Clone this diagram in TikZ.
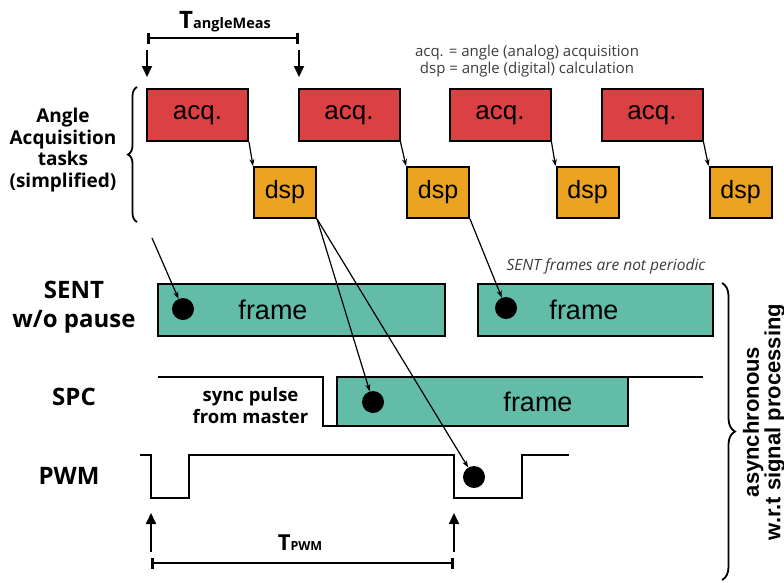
\documentclass[tikz,border=0pt]{standalone}
\usepackage{fontspec}
\setmainfont{Liberation Sans}
\newfontfamily\opensans{Open Sans}
\usetikzlibrary{arrows.meta, decorations.pathreplacing}

\definecolor{acqred}{RGB}{219,64,67}
\definecolor{dsporange}{RGB}{236,163,33}
\definecolor{frameteal}{RGB}{98,188,168}
\definecolor{notegray}{RGB}{60,60,60}

\begin{document}
\begin{tikzpicture}[
  x = 1pt, y = -1pt,
  acqbox/.style = {draw, line width = 2pt, fill = acqred, inner sep = 0pt,
    minimum width = 101pt, minimum height = 52pt, font = \fontsize{26}{26}\selectfont},
  dspbox/.style = {draw, line width = 2pt, fill = dsporange, inner sep = 0pt,
    minimum width = 62pt, minimum height = 51pt, font = \fontsize{25}{25}\selectfont},
  framebox/.style = {draw, line width = 2pt, fill = frameteal, inner sep = 0pt},
  frametext/.style = {font = \fontsize{27}{27}\selectfont},
  sample/.style = {circle, fill, minimum size = 22pt, inner sep = 0pt},
  signal/.style = {line width = 2.2pt},
  link/.style = {line width = 1.2pt, -{Stealth[length = 7pt, width = 5pt]}},
  marker/.style = {line width = 2pt, -{Triangle[length = 11pt, width = 10pt]}},
  span/.style = {line width = 1.6pt,
    {Bar[width = 11pt, line width = 3pt]}-{Bar[width = 11pt, line width = 3pt]}},
  heading/.style = {font = \opensans\bfseries\fontsize{24}{29}\selectfont, align = center},
  note/.style = {font = \opensans\fontsize{15}{17}\selectfont, text = notegray, align = center},
  ]

  \useasboundingbox (0, 0) rectangle (784, 582);

  % sampling period
  \node at (225, 22)
  [font = \opensans\bfseries, name = TangleMeas]
  {{\fontsize{24}{24}\selectfont T}{\fontsize{14.5}{15}\selectfont angleMeas}};

  \coordinate (measL) at (147, 38);
  \coordinate (measR) at (299, 38);
  \draw [span] (measL) to (measR);

  \coordinate (trigA) at (147, 50);
  \coordinate (trigB) at (299, 50);
  \draw [marker] (trigA) to +(0, 27);
  \draw [marker] (trigB) to +(0, 27);

  \node at (527, 61)
  [note, name = Legend]
  {acq. = angle (analog) acquisition\\dsp = angle (digital) calculation};

  % angle tasks
  \node at (63, 150)
  [heading, font = \opensans\bfseries\fontsize{19}{21.7}\selectfont, name = Tasks]
  {Angle\\Acquisition\\tasks\\(simplified)};

  \draw [line width = 1.8pt, decorate, decoration = {brace, amplitude = 9pt}]
  (137, 222) to (137, 87);

  \node at (197.5, 115) [acqbox, name = acqA] {acq.};

  \node at (349, 115) [acqbox, name = acqB] {acq.};

  \node at (500, 115) [acqbox, name = acqC] {acq.};

  \node at (652, 115) [acqbox, name = acqD] {acq.};

  \node at (285, 192.5) [dspbox, name = dspA] {dsp};

  \node at (438, 192.5) [dspbox, name = dspB] {dsp};

  \node at (587.5, 192.5) [dspbox, name = dspC] {dsp};

  \node at (740.5, 192.5) [dspbox, name = dspD] {dsp};

  \draw [link] (acqA.south east) to (dspA.north west);

  \draw [link] (acqB.south east) to (dspB.north west);

  \draw [link] (acqC.south east) to (dspC.north west);

  \draw [link] (acqD.south east) to (dspD.north west);

  % SENT
  \node at (74, 307.5) [heading, name = SENT] {SENT\\w/o pause};

  \node at (606, 266)
  [note, font = \opensans\itshape\fontsize{15.5}{17}\selectfont, name = NotPeriodic]
  {SENT frames are not periodic};

  \node at (301.5, 310)
  [framebox, minimum width = 287pt, minimum height = 52pt, name = sentA,
   label = {[frametext, xshift = -28.5pt]center:frame}] {};

  \node at (595.5, 310)
  [framebox, minimum width = 235pt, minimum height = 52pt, name = sentB,
   label = {[frametext, xshift = -11.5pt]center:frame}] {};

  \node at (183, 309) [sample, name = dotA] {};

  \node at (506, 308) [sample, name = dotB] {};

  % SPC
  \node at (74, 397) [heading, name = SPC] {SPC};

  \draw [signal] (158, 377) -- (323, 377) -- (323, 426) -- (337, 426);

  \draw [signal] (337, 377) -- (703, 377);

  \node at (482.5, 401.5)
  [framebox, minimum width = 291pt, minimum height = 49pt, name = spcFrame,
   label = {[frametext, xshift = 55.5pt]center:frame}] {};

  \node at (250.5, 406)
  [heading, font = \opensans\bfseries\fontsize{18.5}{22}\selectfont, name = Sync]
  {sync pulse\\from master};

  \node at (373, 402) [sample, name = dotC] {};

  % PWM
  \node at (69, 476) [heading, name = PWM] {PWM};

  \draw [signal] (140, 455) -- (151, 455) -- (151, 498) -- (189, 498) -- (189, 455)
  -- (454, 455) -- (454, 498) -- (522, 498) -- (522, 455) -- (569, 455);

  \node at (474, 477) [sample, name = dotD] {};

  \coordinate (edgeA) at (151, 552);
  \coordinate (edgeB) at (454, 552);
  \draw [marker] (edgeA) to +(0, -39);
  \draw [marker] (edgeB) to +(0, -39);

  \node at (300, 543)
  [font = \opensans\bfseries, name = TPWM]
  {{\fontsize{22}{22}\selectfont T}{\fontsize{12.5}{13}\selectfont PWM}};

  \coordinate (pwmL) at (151, 563);
  \coordinate (pwmR) at (454, 563);
  \draw [span] (pwmL) to (pwmR);

  % where the computed angle is sent out
  \coordinate (prevDsp) at (152, 238);
  \draw [link] (prevDsp) to (dotA);

  \draw [link] (dspB.south east) to (dotB);

  \draw [link] (dspA.south east) to (dotC);

  \draw [link] (dspA.south east) to (dotD);

  % asynchronous part
  \draw [line width = 1.8pt, decorate, decoration = {brace, amplitude = 13pt}]
  (722, 283) to (722, 580);

  \node at (764, 422)
  [rotate = 90, align = center, font = \bfseries\fontsize{22}{19}\selectfont, name = Async]
  {asynchronous\\w.r.t signal processing};

\end{tikzpicture}
\end{document}
